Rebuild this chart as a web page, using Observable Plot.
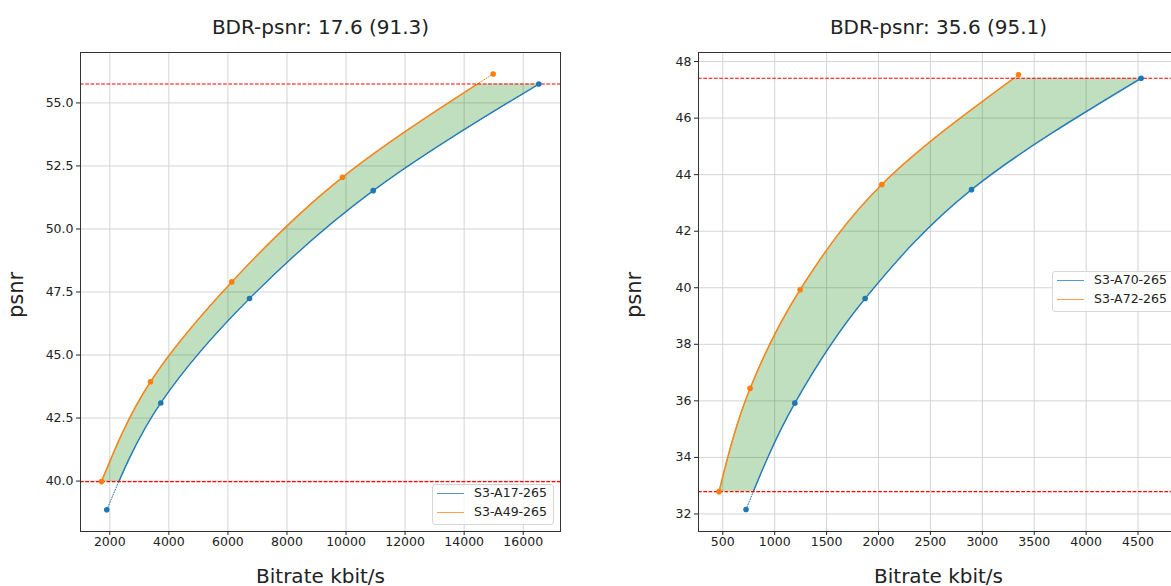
<!DOCTYPE html>
<html>
<head>
<meta charset="utf-8">
<script src="https://cdn.jsdelivr.net/npm/d3@7"></script>
<script src="https://cdn.jsdelivr.net/npm/@observablehq/plot@0.6"></script>
<style>
  html, body { margin: 0; padding: 0; background: #fff; overflow: hidden; }
  #wrap { position: relative; width: 1171px; height: 586px; overflow: hidden; font-family: "DejaVu Sans", sans-serif; }
  .panel { position: absolute; top: 0; width: 600px; height: 586px; }
  .panel svg { max-width: none !important; }
  .legend { position: absolute; width: 122px; height: 41px; box-sizing: border-box;
    background: rgba(255,255,255,0.8); border: 1px solid #d6d6d6; border-radius: 3px;
    font: 12.5px "DejaVu Sans", sans-serif; color: #222; }
  .legend .sw { position: absolute; left: 4px; width: 27px; height: 0; border-top: 1.5px solid; }
  .legend .lb { position: absolute; left: 41px; line-height: 14px; white-space: nowrap; }
</style>
</head>
<body>
<div id="wrap"></div>
<script>
// ---------- data ----------
const leftTitle = "BDR-psnr: 17.6 (91.3)";
const leftNames = ["S3-A17-265", "S3-A49-265"];
const leftBlueRate = [1898, 3727, 6731, 10920, 16528];
const leftBluePsnr = [38.86, 43.10, 47.24, 51.52, 55.75];
const leftOrangeRate = [1719, 3378, 6131, 9880, 14983];
const leftOrangePsnr = [39.98, 43.94, 47.90, 52.05, 56.15];
const leftXTicks = [2000, 4000, 6000, 8000, 10000, 12000, 14000, 16000];
const leftYTicks = [40, 42.5, 45, 47.5, 50, 52.5, 55];

const rightTitle = "BDR-psnr: 35.6 (95.1)";
const rightNames = ["S3-A70-265", "S3-A72-265"];
const rightBlueRate = [724, 1194, 1871, 2896, 4530];
const rightBluePsnr = [32.16, 35.92, 39.62, 43.47, 47.41];
const rightOrangeRate = [464, 763, 1245, 2032, 3349];
const rightOrangePsnr = [32.79, 36.44, 39.93, 43.65, 47.53];
const rightXTicks = [500, 1000, 1500, 2000, 2500, 3000, 3500, 4000, 4500];
const rightYTicks = [32, 34, 36, 38, 40, 42, 44, 46, 48];

const xLabel = "Bitrate kbit/s";
const yLabel = "psnr";

// ---------- styles ----------
const BLUE = "#1f77b4", ORANGE = "#ff7f0e";
const NS = "http://www.w3.org/2000/svg";

function makePanel(cfg) {
  const blue = cfg.blueRate.map((r, i) => ({rate: r, psnr: cfg.bluePsnr[i]}));
  const orange = cfg.orangeRate.map((r, i) => ({rate: r, psnr: cfg.orangePsnr[i]}));
  const lo = Math.max(d3.min(cfg.bluePsnr), d3.min(cfg.orangePsnr));
  const hi = Math.min(d3.max(cfg.bluePsnr), d3.max(cfg.orangePsnr));
  const xd = cfg.xDomain;

  const plot = Plot.plot({
    width: 600, height: 586,
    marginLeft: 80, marginRight: 40, marginTop: 52, marginBottom: 55,
    style: {fontFamily: "DejaVu Sans, sans-serif", background: "transparent", color: "#222", overflow: "visible"},
    x: {domain: xd},
    y: {domain: cfg.yDomain},
    marks: [
      Plot.gridX({ticks: cfg.xTicks, stroke: "#cfcfcf", strokeOpacity: 1, strokeWidth: 0.9}),
      Plot.gridY({ticks: cfg.yTicks, stroke: "#cfcfcf", strokeOpacity: 1, strokeWidth: 0.9}),
      // band: region right of the orange curve, clipped by region left of the blue curve
      Plot.areaX(orange, {y: "psnr", x1: "rate", x2: () => xd[1], curve: "monotone-y",
        fill: "green", fillOpacity: 0.25, ariaDescription: "band"}),
      Plot.areaX(blue, {y: "psnr", x1: () => xd[0], x2: "rate", curve: "monotone-y",
        fill: "black", ariaDescription: "bandclip"}),
      // dotted full curves (visible outside the common range)
      Plot.line(blue, {x: "rate", y: "psnr", curve: "monotone-y", stroke: BLUE, strokeWidth: 1, strokeDasharray: "1,1.65"}),
      Plot.line(orange, {x: "rate", y: "psnr", curve: "monotone-y", stroke: ORANGE, strokeWidth: 1, strokeDasharray: "1,1.65"}),
      // solid curves inside the common range
      Plot.line(blue, {x: "rate", y: "psnr", curve: "monotone-y", stroke: BLUE, strokeWidth: 1.5, strokeOpacity: 0.9, ariaDescription: "solid"}),
      Plot.line(orange, {x: "rate", y: "psnr", curve: "monotone-y", stroke: ORANGE, strokeWidth: 1.5, strokeOpacity: 0.9, ariaDescription: "solid"}),
      Plot.ruleY([lo, hi], {stroke: "red", strokeWidth: 1.2, strokeDasharray: "3.7,1.6"}),
      Plot.dot(blue, {x: "rate", y: "psnr", r: 2.8, fill: BLUE, stroke: "none"}),
      Plot.dot(orange, {x: "rate", y: "psnr", r: 2.8, fill: ORANGE, stroke: "none"}),
      Plot.frame({stroke: "#333", strokeWidth: 1}),
      Plot.axisX({ticks: cfg.xTicks, tickFormat: d3.format("d"), tickSize: 4, tickPadding: 2, fontSize: 12.5, label: null}),
      Plot.axisY({ticks: cfg.yTicks, tickFormat: cfg.yFormat, tickSize: 4, tickPadding: 3, fontSize: 12.5, label: null}),
      Plot.text([cfg.title], {text: d => d, frameAnchor: "top", lineAnchor: "middle", dy: -25.4, fontSize: 20, textAnchor: "middle", fill: "#222"}),
      Plot.text([xLabel], {text: d => d, frameAnchor: "bottom", lineAnchor: "middle", dy: 44.6, fontSize: 20, textAnchor: "middle", fill: "#222"}),
      Plot.text([yLabel], {text: d => d, frameAnchor: "left", lineAnchor: "middle", rotate: -90, dx: -64, dy: 3, fontSize: 21, textAnchor: "middle", fill: "#222"})
    ]
  });

  // clip paths
  const svg = plot.tagName.toLowerCase() === "svg" ? plot : plot.querySelector("svg");
  const defs = document.createElementNS(NS, "defs");
  svg.insertBefore(defs, svg.firstChild);
  const src = svg.querySelector('[aria-description="bandclip"]');
  const band = svg.querySelector('[aria-description="band"]');
  if (src && band) {
    const cp = document.createElementNS(NS, "clipPath");
    cp.setAttribute("id", cfg.id + "-band");
    src.querySelectorAll("path").forEach(p => cp.appendChild(p));
    defs.appendChild(cp);
    src.remove();
    band.setAttribute("clip-path", `url(#${cfg.id}-band)`);
  }
  const ys = plot.scale("y");
  const yTop = ys.apply(hi), yBot = ys.apply(lo);
  const cp2 = document.createElementNS(NS, "clipPath");
  cp2.setAttribute("id", cfg.id + "-range");
  const rect = document.createElementNS(NS, "rect");
  rect.setAttribute("x", 0); rect.setAttribute("width", 600);
  rect.setAttribute("y", yTop - 0.5); rect.setAttribute("height", yBot - yTop + 1);
  cp2.appendChild(rect);
  defs.appendChild(cp2);
  svg.querySelectorAll('[aria-description="solid"]').forEach(g => g.setAttribute("clip-path", `url(#${cfg.id}-range)`));

  const div = document.createElement("div");
  div.className = "panel";
  div.style.left = cfg.left + "px";
  div.appendChild(plot);

  // legend
  const lg = document.createElement("div");
  lg.className = "legend";
  lg.style.left = cfg.legend[0] + "px";
  lg.style.top = cfg.legend[1] + "px";
  [[BLUE, cfg.names[0]], [ORANGE, cfg.names[1]]].forEach(([c, n], i) => {
    const cy = 8.5 + i * 19;
    const sw = document.createElement("div");
    sw.className = "sw"; sw.style.borderTopColor = c; sw.style.opacity = 0.75; sw.style.top = (cy - 0.75) + "px";
    const lb = document.createElement("div");
    lb.className = "lb"; lb.textContent = n; lb.style.top = (cy - 7.5) + "px";
    lg.appendChild(sw); lg.appendChild(lb);
  });
  div.appendChild(lg);
  document.getElementById("wrap").appendChild(div);
}

makePanel({
  id: "L", left: 0, title: leftTitle, names: leftNames,
  blueRate: leftBlueRate, bluePsnr: leftBluePsnr, orangeRate: leftOrangeRate, orangePsnr: leftOrangePsnr,
  xDomain: [1008, 17263], yDomain: [38.0, 57.0], xTicks: leftXTicks, yTicks: leftYTicks,
  yFormat: d3.format(".1f"), legend: [432, 484]
});
makePanel({
  id: "R", left: 618, title: rightTitle, names: rightNames,
  blueRate: rightBlueRate, bluePsnr: rightBluePsnr, orangeRate: rightOrangeRate, orangePsnr: rightOrangePsnr,
  xDomain: [266, 4890], yDomain: [31.38, 48.32], xTicks: rightXTicks, yTicks: rightYTicks,
  yFormat: d3.format("d"), legend: [434, 271]
});
</script>
</body>
</html>
